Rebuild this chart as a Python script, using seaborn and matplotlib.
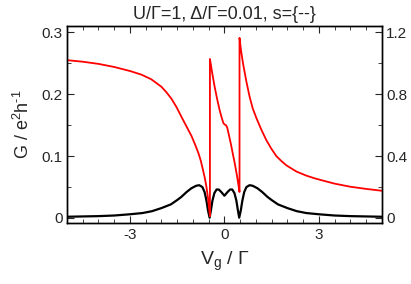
import numpy as np
import pandas as pd
import matplotlib
matplotlib.use("Agg")
import matplotlib.pyplot as plt
import seaborn as sns
from matplotlib.ticker import MultipleLocator

# ---- data ----
# black curve: conductance G (left axis, e^2/h)
vg_black = [-5.0, -4.5, -4.0, -3.5, -3.0, -2.6, -2.3, -2.0, -1.7, -1.5, -1.37, -1.2, -1.05,
            -0.9, -0.8, -0.7, -0.63, -0.57, -0.52, -0.47, -0.43, -0.38, -0.32, -0.25, -0.18,
            -0.1, 0.0, 0.1, 0.18, 0.25, 0.32, 0.38, 0.43, 0.47, 0.52, 0.57, 0.63, 0.7, 0.8,
            0.9, 1.05, 1.2, 1.37, 1.5, 1.7, 2.0, 2.3, 2.6, 3.0, 3.5, 4.0, 4.5, 5.0]
g_black = [0.002, 0.0025, 0.003, 0.004, 0.006, 0.008, 0.011, 0.016, 0.022, 0.029, 0.034, 0.042, 0.048,
           0.052, 0.053, 0.050, 0.042, 0.028, 0.012, 0.0005, 0.012, 0.028, 0.040, 0.046, 0.046,
           0.042, 0.036, 0.042, 0.046, 0.046, 0.040, 0.028, 0.012, 0.0005, 0.012, 0.028, 0.042, 0.050, 0.053,
           0.052, 0.048, 0.042, 0.034, 0.029, 0.022, 0.016, 0.011, 0.008, 0.006, 0.004, 0.003, 0.0025, 0.002]

# red curve: right axis units
vg_red = [-5.0, -4.5, -4.0, -3.5, -3.0, -2.63, -2.32, -2.0, -1.84, -1.68, -1.52, -1.37, -1.2,
          -1.05, -0.93, -0.83, -0.75, -0.68, -0.62, -0.57, -0.52, -0.48, -0.46, -0.46, -0.38,
          -0.31, -0.23, -0.15, -0.08, -0.03, 0.01, 0.05, 0.09, 0.13, 0.2, 0.27, 0.33, 0.4,
          0.45, 0.48, 0.48, 0.53, 0.59, 0.7, 0.8, 0.9, 1.02, 1.17, 1.33, 1.49, 1.65, 1.81,
          1.97, 2.29, 2.6, 2.87, 3.2, 3.5, 4.0, 4.5, 5.0]
g_red = [1.020, 1.010, 0.996, 0.976, 0.950, 0.926, 0.896, 0.848, 0.812, 0.770, 0.716, 0.656, 0.590,
         0.532, 0.474, 0.422, 0.370, 0.310, 0.256, 0.200, 0.128, 0.052, 0.012, 1.028, 0.928,
         0.848, 0.768, 0.696, 0.644, 0.612, 0.604, 0.600, 0.584, 0.548, 0.484, 0.412, 0.352, 0.272,
         0.208, 0.168, 1.164, 1.080, 1.000, 0.880, 0.784, 0.708, 0.644, 0.572, 0.504, 0.448, 0.400, 0.368,
         0.340, 0.300, 0.274, 0.256, 0.238, 0.222, 0.202, 0.188, 0.176]

title_text = "U/\u0393=1, \u0394/\u0393=0.01, s={--}"
left_ticks = [0, 0.1, 0.2, 0.3]
left_ticklabels = ["0", "0.1", "0.2", "0.3"]
right_ticks = [0, 0.4, 0.8, 1.2]
right_ticklabels = ["0", "0.4", "0.8", "1.2"]
x_ticks = [-3, 0, 3]
x_ticklabels = ["-3", "0", "3"]

sns.set_style("ticks")
plt.rcParams["font.family"] = ["Liberation Sans", "DejaVu Sans"]
plt.rcParams["mathtext.fontset"] = "custom"
plt.rcParams["mathtext.rm"] = "Liberation Sans"
plt.rcParams["axes.unicode_minus"] = False

fig = plt.figure(figsize=(4.11, 2.84), dpi=100)
ax = fig.add_axes([0.163, 0.215, 0.766, 0.693])
ax2 = ax.twinx()

df_b = pd.DataFrame({"Vg": vg_black, "G": g_black})
df_r = pd.DataFrame({"Vg": vg_red, "G": g_red})
sns.lineplot(data=df_b, x="Vg", y="G", ax=ax, color="black", lw=1.6,
             estimator=None, sort=False)
sns.lineplot(data=df_r, x="Vg", y="G", ax=ax2, color="red", lw=1.3,
             estimator=None, sort=False)

ax.set_xlim(-5, 5)
ax.set_ylim(-0.008, 0.31)
ax2.set_ylim(-0.032, 1.24)

ax.set_xticks(x_ticks)
ax.set_xticklabels(x_ticklabels)
ax.set_yticks(left_ticks)
ax.set_yticklabels(left_ticklabels)
ax2.set_yticks(right_ticks)
ax2.set_yticklabels(right_ticklabels)
ax.xaxis.set_minor_locator(MultipleLocator(0.5))
ax.yaxis.set_minor_locator(MultipleLocator(0.05))
ax2.yaxis.set_minor_locator(MultipleLocator(0.2))

for a in (ax, ax2):
    for s in a.spines.values():
        s.set_visible(True)
        s.set_linewidth(1.0)
        s.set_color("black")

ax.tick_params(axis="x", which="both", direction="in", top=True, bottom=True, labelsize=11, pad=4)
ax.tick_params(axis="y", which="both", direction="in", left=True, right=False, labelsize=11, pad=3)
ax2.tick_params(axis="y", which="both", direction="in", right=True, left=False, labelsize=11, pad=3)
for a in (ax, ax2):
    a.tick_params(which="major", length=5, width=0.8)
    a.tick_params(which="minor", length=3, width=0.6)

ax.set_xlabel(r"V$_\mathregular{g}$ / " + "\u0393", fontsize=14, labelpad=5)
ax.set_ylabel(r"G / e$^\mathregular{2}$h$^{\text{-1}}$", fontsize=13, labelpad=6)
ax2.set_ylabel("")
ax.set_title(title_text, fontsize=13, pad=5)

fig.savefig("out.png", dpi=100)
